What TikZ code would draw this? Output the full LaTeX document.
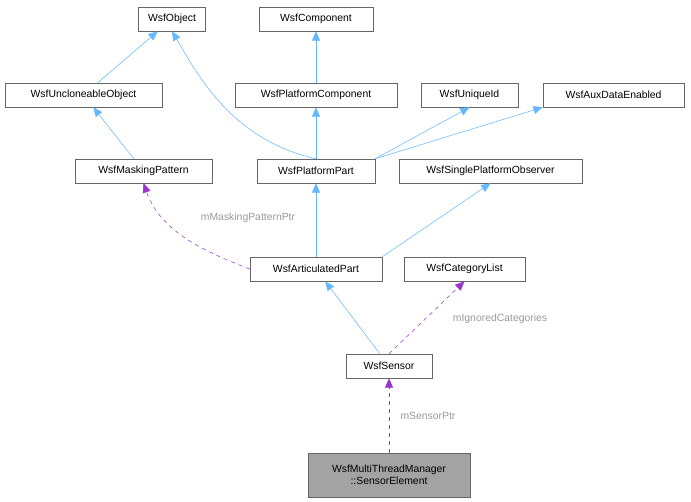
\documentclass[tikz,border=0pt]{standalone}
\usepackage{fontspec}
\setmainfont{Liberation Sans}
\usetikzlibrary{arrows.meta}
\definecolor{inhblue}{HTML}{63B8FF}
\definecolor{usepurple}{HTML}{9A32CD}
\definecolor{boxgray}{HTML}{666666}
\begin{document}
\begin{tikzpicture}[x=0.75pt, y=-0.75pt, font=\fontsize{7.8}{9}\selectfont,
    cls/.style={draw=boxgray, fill=white, inner sep=0pt, minimum height=18pt, align=center},
    inh/.style={draw=inhblue, -{Triangle[length=7pt,width=6pt,fill=inhblue]}},
    use/.style={draw=usepurple, dashed, -{Triangle[length=7pt,width=6pt,fill=usepurple]}},
    lbl/.style={text=gray!80, inner sep=1pt}]
    \useasboundingbox (0,0) rectangle (691,501);
    \node[cls, minimum width=50pt] (obj) at (172,19) {WsfObject};
    \node[cls, minimum width=85.5pt] (comp) at (316,19) {WsfComponent};
    \node[cls, minimum width=117.75pt] (uncl) at (83.5,95) {WsfUncloneableObject};
    \node[cls, minimum width=121.5pt] (pcomp) at (316,95) {WsfPlatformComponent};
    \node[cls, minimum width=72.75pt] (uid) at (469.5,95) {WsfUniqueId};
    \node[cls, minimum width=105.75pt] (aux) at (613.5,95) {WsfAuxDataEnabled};
    \node[cls, minimum width=102.75pt] (mask) at (143.5,171) {WsfMaskingPattern};
    \node[cls, minimum width=88.5pt] (ppart) at (316,171) {WsfPlatformPart};
    \node[cls, minimum width=137.25pt] (spo) at (490.5,171) {WsfSinglePlatformObserver};
    \node[cls, minimum width=99pt] (apart) at (316,269) {WsfArticulatedPart};
    \node[cls, minimum width=90.75pt] (cat) at (464.5,269) {WsfCategoryList};
    \node[cls, minimum width=64.5pt] (sens) at (389,366) {WsfSensor};
    \node[cls, fill=gray!80!black!60, minimum width=121.5pt, minimum height=33pt] (elem) at (389,475) {WsfMultiThreadManager\\::SensorElement};

    % inheritance
    \draw[inh] (uncl) -- (obj);
    \draw[inh] (pcomp) -- (comp);
    \draw[inh] (mask) -- (uncl);
    \draw[inh] (ppart.north) .. controls (230,140) and (195,70) .. (obj.south);
    \draw[inh] (ppart) -- (pcomp);
    \draw[inh] (ppart.north east) -- (uid.south);
    \draw[inh] (ppart.north east) -- (aux.south west);
    \draw[inh] (apart) -- (ppart);
    \draw[inh] (apart.north east) -- (spo.south);
    \draw[inh] (sens) -- (apart);

    % usage
    \draw[use] (apart.west) .. controls (200,250) and (160,230) .. (mask.south);
    \node[lbl] (masklbl) at (248,218) {mMaskingPatternPtr};
    \draw[use] (sens.north) -- (cat.south);
    \node[lbl] (catlbl) at (500,319) {mIgnoredCategories};
    \draw[use] (elem) -- (sens);
    \node[lbl] (senslbl) at (428,416) {mSensorPtr};
\end{tikzpicture}
\end{document}
